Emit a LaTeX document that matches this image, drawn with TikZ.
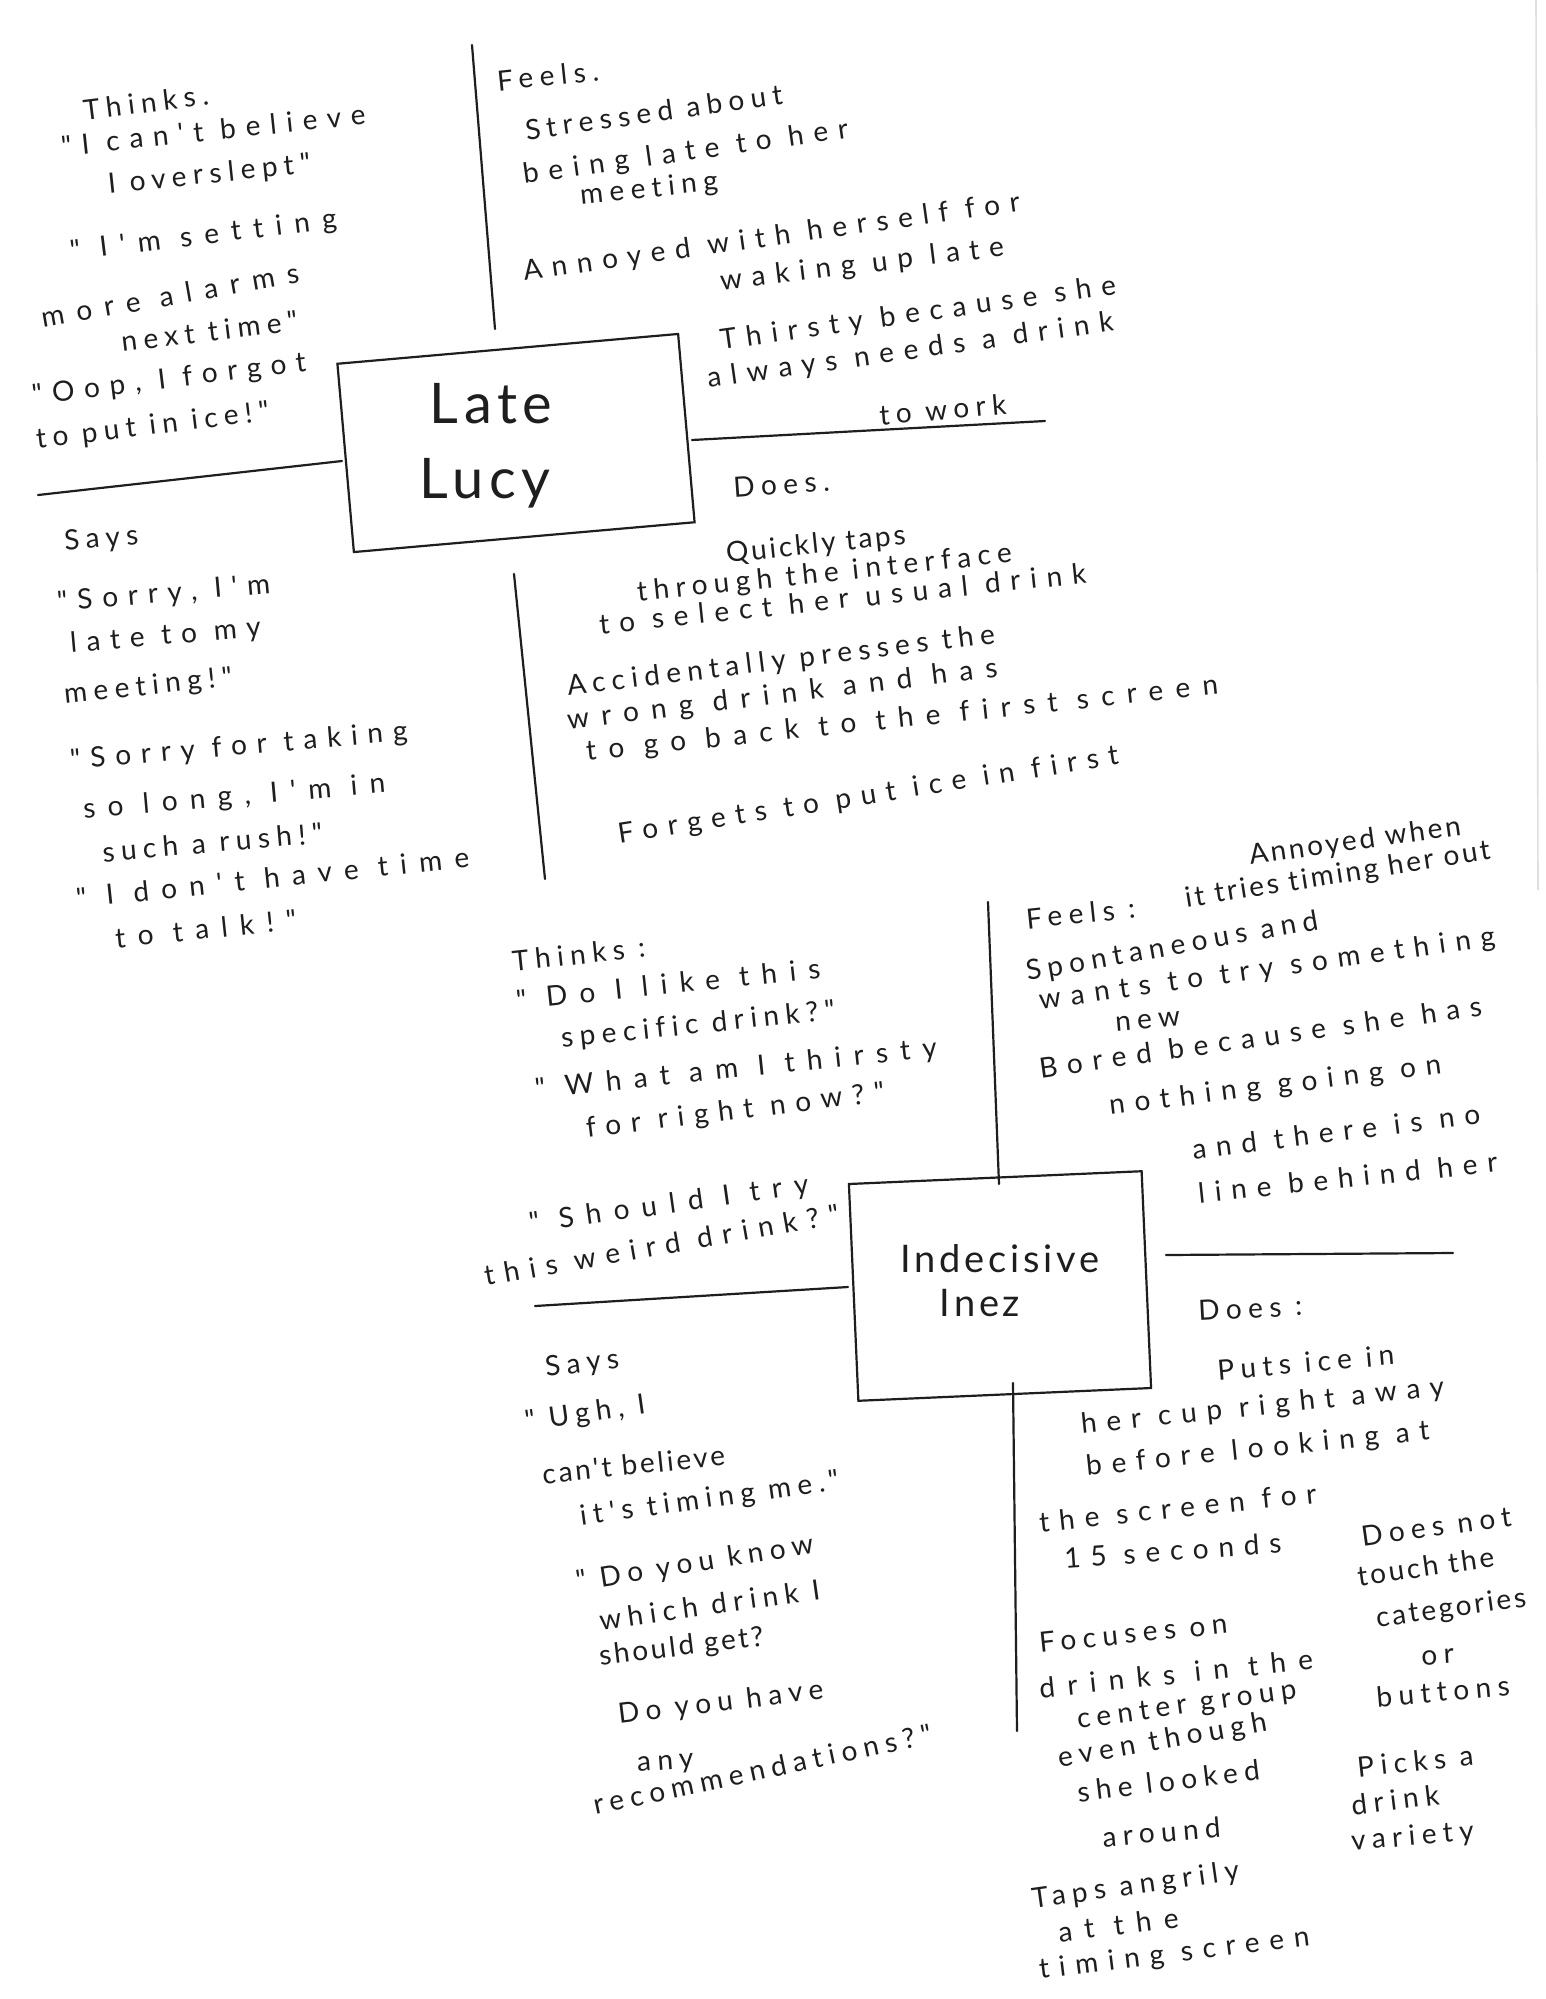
\documentclass[tikz,border=0pt]{standalone}
\usepackage{fontspec}
\setmainfont{Lato}
\newfontfamily\fontHA{Lato}[LetterSpace=23, Ligatures=NoCommon]
\newfontfamily\fontHB{Lato}[LetterSpace=35, Ligatures=NoCommon]
\newfontfamily\fontHC{Lato}[LetterSpace=44, Ligatures=NoCommon]
\newfontfamily\fontHD{Lato}[LetterSpace=10, Ligatures=NoCommon]
\newfontfamily\fontHT{Lato}[LetterSpace=10, Ligatures=NoCommon]
\definecolor{pencil}{HTML}{1E1E1E}
\begin{document}
\begin{tikzpicture}[x=0.5pt,y=-0.5pt,
  fA/.style={font=\fontHA\fontsize{14}{17}\selectfont},
  fB/.style={font=\fontHB\fontsize{14}{17}\selectfont},
  fC/.style={font=\fontHC\fontsize{14}{17}\selectfont},
  fD/.style={font=\fontHD\fontsize{14}{17}\selectfont},
  hw/.style={anchor=west, inner sep=0pt, text=pencil, yshift=-4pt, fB},
  tw/.style={hw, rotate=#1},
  pen/.style={draw=pencil, line width=1.1pt, line cap=round},
  boxst/.style={draw=pencil, line width=1.1pt, inner sep=0pt},
  bigtxt/.style={inner sep=0pt, text=pencil, font=\fontHT\fontsize{28}{32}\selectfont},
  midtxt/.style={inner sep=0pt, text=pencil, font=\fontHT\fontsize{19}{22}\selectfont}]
\useasboundingbox[fill=white] (0,0) rectangle (1546,1999);
% paper edge
\coordinate (e1) at (1536,0); \coordinate (e2) at (1538,890);
\draw[gray!25, line width=0.8pt] (e1) -- (e2);

%================ LATE LUCY ================
\node[boxst, rotate=5, minimum width=171pt, minimum height=94.5pt] (lucy) at (516,443) {};
\node[bigtxt] (late) at (491,404) {Late};
\node[bigtxt] (lucyname) at (485,483) {Lucy};
\coordinate (lv1a) at (472,45);  \coordinate (lv1b) at (495,329);
\coordinate (lh1a) at (38,495);  \coordinate (lh1b) at (342,461);
\coordinate (lh2a) at (692,440); \coordinate (lh2b) at (1045,421);
\coordinate (lv2a) at (514,574); \coordinate (lv2b) at (545,879);
\draw[pen] (lv1a) -- (lv1b);
\draw[pen] (lh1a) -- (lh1b);
\draw[pen] (lh2a) -- (lh2b);
\draw[pen] (lv2a) -- (lv2b);

% Thinks
\node[tw=7,fA] (lt0) at (83,102) {Thinks.};
\node[tw=6] (lt1) at (61,138) {"I can't believe};
\node[tw=6,fA] (lt2) at (108,178) {I overslept"};
\node[tw=7,fC] (lt3) at (70,245) {" I'm setting};
\node[tw=10,fC] (lt4) at (41,310) {more alarms};
\node[tw=7,fA] (lt5) at (121,334) {next time"};
\node[tw=7] (lt6) at (32,389) {"Oop, I forgot};
\node[tw=7,fA] (lt7) at (36,433) {to put in ice!"};
% Says
\node[tw=5,fA] (ls0) at (64,535) {Says};
\node[tw=5] (ls1) at (57,596) {"Sorry, I'm};
\node[tw=5] (ls2) at (70,637) {late to my};
\node[tw=6,fA] (ls3) at (64,688) {meeting!"};
\node[tw=5] (ls4) at (70,754) {"Sorry for taking};
\node[tw=5,fC] (ls5) at (83,803) {so long, I'm in};
\node[tw=5,fA] (ls6) at (102,844) {such a rush!"};
\node[tw=6,fC] (ls7) at (76,890) {" I don't have time};
\node[tw=6,fC] (ls8) at (115,930) {to talk!"};
% Feels
\node[tw=6,fA] (lf0) at (497,73) {Feels.};
\node[tw=8,fA] (lf1) at (525,122) {Stressed about};
\node[tw=8] (lf2) at (523,168) {being late to her};
\node[tw=6,fA] (lf3) at (580,189) {meeting};
\node[tw=8] (lf4) at (523,265) {Annoyed with herself for};
\node[tw=7] (lf5) at (720,275) {waking up late};
\node[tw=8] (lf6) at (720,334) {Thirsty because she};
\node[tw=8] (lf7) at (707,372) {always needs a drink};
\node[tw=5,fA] (lf8) at (879,407) {to work};
% Does
\node[tw=4,fA] (ld0) at (733,480) {Does.};
\node[tw=6,fD] (ld1) at (726,547) {Quickly taps};
\node[tw=6,fA] (ld2) at (637,586) {through the interface};
\node[tw=6] (ld3) at (599,616) {to select her usual drink};
\node[tw=7,fA] (ld4) at (567,680) {Accidentally presses the};
\node[tw=7,fC] (ld5) at (567,714) {wrong drink and has};
\node[tw=6,fC] (ld6) at (586,745) {to go back to the first screen};
\node[tw=9] (ld7) at (618,828) {Forgets to put ice in first};

%================ INDECISIVE INEZ ================
\node[boxst, rotate=2.5, minimum width=146.5pt, minimum height=108.5pt] (inez) at (1000,1286) {};
\node[midtxt] (indec) at (1000,1259) {Indecisive};
\node[midtxt] (ineznm) at (980,1303) {Inez};
\coordinate (iv1a) at (988,902);  \coordinate (iv1b) at (999,1184);
\coordinate (ih1a) at (535,1306); \coordinate (ih1b) at (848,1287);
\coordinate (ih2a) at (1166,1255); \coordinate (ih2b) at (1453,1253);
\coordinate (iv2a) at (1013,1383); \coordinate (iv2b) at (1017,1731);
\draw[pen] (iv1a) -- (iv1b);
\draw[pen] (ih1a) -- (ih1b);
\draw[pen] (ih2a) -- (ih2b);
\draw[pen] (iv2a) -- (iv2b);

% Thinks
\node[tw=6,fA] (it0) at (512,953) {Thinks :};
\node[tw=6,fC] (it1) at (516,992) {" Do I like this};
\node[tw=6,fA] (it2) at (561,1032) {specific drink?"};
\node[tw=6,fC] (it3) at (535,1083) {" What am I thirsty};
\node[tw=7] (it4) at (586,1122) {for right now?"};
\node[tw=8,fC] (it5) at (529,1217) {" Should I try};
\node[tw=10] (it6) at (484,1268) {this weird drink?"};
% Says
\node[tw=7,fA] (is0) at (545,1361) {Says};
\node[tw=8,fA] (is1) at (525,1415) {" Ugh, I};
\node[tw=6,fD] (is2) at (542,1466) {can't believe};
\node[tw=8,fA] (is3) at (580,1510) {it's timing me."};
\node[tw=9,fA] (is4) at (576,1575) {" Do you know};
\node[tw=8,fA] (is5) at (599,1612) {which drink I};
\node[tw=7,fD] (is6) at (599,1650) {should get?};
\node[tw=7,fA] (is7) at (618,1708) {Do you have};
\node[tw=4,fA] (is8) at (637,1759) {any};
\node[tw=12,fA] (is9) at (593,1797) {recommendations?"};
% Feels
\node[tw=6,fA] (if0) at (1026,911) {Feels :};
\node[tw=8,fD] (if1) at (1249,849) {Annoyed when};
\node[tw=9,fD] (if2) at (1185,892) {it tries timing her out};
\node[tw=10,fA] (if3) at (1026,965) {Spontaneous and};
\node[tw=8] (if4) at (1039,994) {wants to try something};
\node[tw=5,fA] (if5) at (1115,1016) {new};
\node[tw=8] (if6) at (1039,1060) {Bored because she has};
\node[tw=7] (if7) at (1109,1099) {nothing going on};
\node[tw=7] (if8) at (1192,1141) {and there is no};
\node[tw=6] (if9) at (1198,1185) {line behind her};
% Does
\node[tw=3,fA] (id0) at (1198,1303) {Does :};
\node[tw=5,fA] (id1) at (1217,1362) {Puts ice in};
\node[tw=6] (id2) at (1081,1418) {her cup right away};
\node[tw=6] (id3) at (1086,1460) {before looking at};
\node[tw=6] (id4) at (1039,1514) {the screen for};
\node[tw=4] (id5) at (1064,1550) {15 seconds};
\node[tw=6,fA] (id6) at (1039,1635) {Focuses on};
\node[tw=6,fC] (id7) at (1039,1680) {drinks in the};
\node[tw=8,fA] (id8) at (1077,1714) {center group};
\node[tw=10,fA] (id9) at (1058,1752) {even though};
\node[tw=7,fA] (id10) at (1077,1784) {she looked};
\node[tw=5,fA] (id11) at (1102,1829) {around};
\node[tw=8,fA] (id12) at (1032,1893) {Taps angrily};
\node[tw=7,fC] (id13) at (1058,1924) {at the};
\node[tw=7] (id14) at (1039,1963) {timing screen};
\node[tw=8,fA] (id15) at (1361,1529) {Does not};
\node[tw=8,fD] (id16) at (1357,1568) {touch the};
\node[tw=8,fD] (id17) at (1376,1612) {categories};
\node[tw=3,fA] (id18) at (1421,1650) {or};
\node[tw=5,fA] (id19) at (1376,1689) {buttons};
\node[tw=6,fA] (id20) at (1357,1759) {Picks a};
\node[tw=7,fA] (id21) at (1351,1797) {drink};
\node[tw=5,fA] (id22) at (1351,1835) {variety};
\end{tikzpicture}
\end{document}
